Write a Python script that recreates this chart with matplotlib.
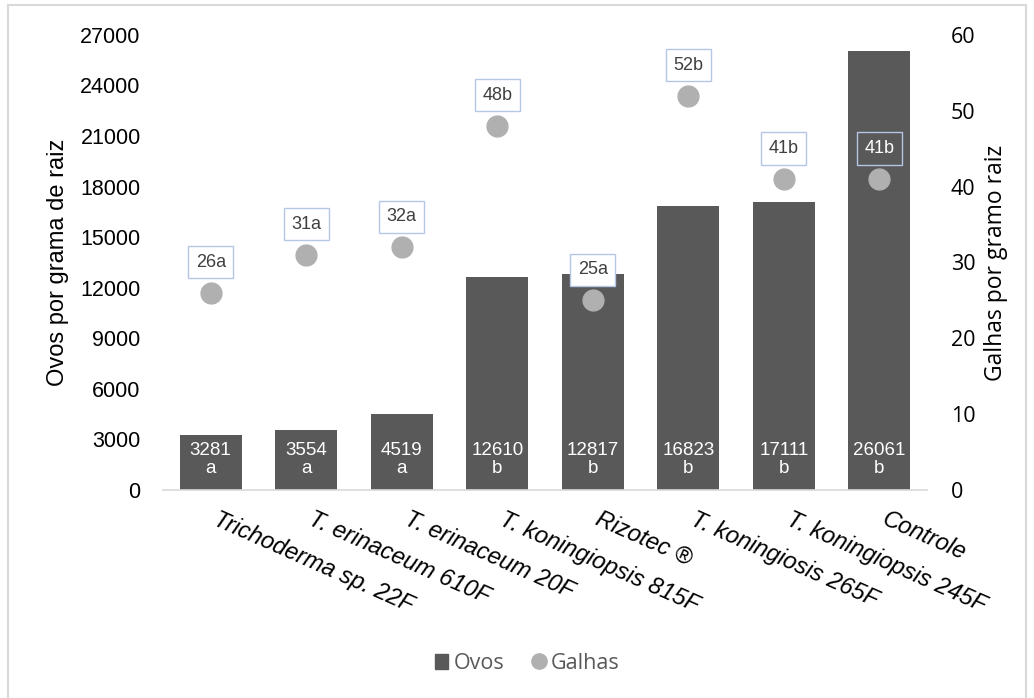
import numpy as np
import matplotlib.pyplot as plt
from matplotlib.patches import Rectangle
from matplotlib.lines import Line2D
from matplotlib.patches import Patch
from matplotlib.transforms import ScaledTranslation

# data
tratamentos = ['Trichoderma sp. 22F', 'T. erinaceum 610F', 'T. erinaceum 20F',
               'T. koningiopsis 815F', 'Rizotec ®', 'T. koningiosis 265F',
               'T. koningiopsis 245F', 'Controle']
ovos = [3281, 3554, 4519, 12610, 12817, 16823, 17111, 26061]
ovos_letras = ['a', 'a', 'a', 'b', 'b', 'b', 'b', 'b']
galhas = [26, 31, 32, 48, 25, 52, 41, 41]
galhas_letras = ['a', 'a', 'a', 'b', 'a', 'b', 'b', 'b']

bar_cor = '#595959'
dot_cor = '#b0b0b0'
arial = 'Liberation Sans'
open_sans = 'Open Sans'

fig = plt.figure(figsize=(10.34, 6.98), dpi=100)
ax1 = fig.add_axes([0.1576, 0.298, 0.739, 0.652])
ax2 = ax1.twinx()

x = np.arange(len(tratamentos))
ax1.bar(x, ovos, width=0.65, color=bar_cor, zorder=2)
ax1.set_xlim(-0.5, len(tratamentos) - 0.5)
ax1.set_ylim(0, 27000)
ax1.set_yticks(np.arange(0, 27001, 3000))
ax2.set_ylim(0, 60)
ax2.set_yticks(np.arange(0, 61, 10))

# bar labels
for xi, v, l in zip(x, ovos, ovos_letras):
    ax1.annotate(f'{v}\n{l}', (xi, 0), xytext=(0, 22), textcoords='offset points',
                 ha='center', va='center', color='white', fontsize=13.5,
                 family=arial, linespacing=1.05)

# dots
ax2.plot(x, galhas, 'o', color=dot_cor, markersize=15, zorder=3)
for i, (xi, g, l) in enumerate(zip(x, galhas, galhas_letras)):
    dentro = i == len(x) - 1
    ax2.annotate(f'{g}{l}', (xi, g), xytext=(0, 22), textcoords='offset points',
                 ha='center', va='center', fontsize=13, family=arial,
                 color='white' if dentro else '#404040',
                 bbox=dict(boxstyle='square,pad=0.42',
                           fc='none' if dentro else 'white',
                           ec='#b4c7e7', lw=1.0), zorder=4)

# spines and ticks
for ax in (ax1, ax2):
    for s in ax.spines.values():
        s.set_visible(False)
    ax.tick_params(length=0)
ax1.spines['bottom'].set_visible(True)
ax1.spines['bottom'].set_color('#d9d9d9')
ax1.spines['bottom'].set_linewidth(1.2)

ax1.tick_params(axis='y', pad=16, labelsize=15.5)
for t in ax1.get_yticklabels():
    t.set_family(arial)
ax2.tick_params(axis='y', pad=17, labelsize=15.5)
for t in ax2.get_yticklabels():
    t.set_family(open_sans)

ax1.set_xticks(x)
ax1.set_xticklabels(tratamentos, rotation=-24, ha='left', rotation_mode='anchor',
                    fontsize=17, family=arial, style='italic')
ax1.tick_params(axis='x', pad=10)
desloc = ScaledTranslation(6 / 72, -3 / 72, fig.dpi_scale_trans)
for t in ax1.get_xticklabels():
    t.set_transform(t.get_transform() + desloc)

ax1.set_ylabel('Ovos por grama de raiz', fontsize=17, family=arial, labelpad=8)
ax2.set_ylabel('Galhas por gramo raiz', fontsize=16.5, family=open_sans,
               labelpad=6)

# legend
handles = [Patch(color=bar_cor, label='Ovos'),
           Line2D([], [], marker='o', ls='none', color=dot_cor, markersize=11,
                  label='Galhas')]
fig.legend(handles=handles, loc='center', bbox_to_anchor=(0.51, 0.05),
           ncol=2, frameon=False, handlelength=0.6, handletextpad=0.25,
           columnspacing=1.3, prop={'family': open_sans, 'size': 15.5},
           labelcolor='#595959')

# outer frame
fig.patches.append(Rectangle((0.0075, -0.05), 0.985, 1.043, transform=fig.transFigure,
                             fill=False, ec='#d9d9d9', lw=1.5))

fig.savefig('out.png', dpi=100)
